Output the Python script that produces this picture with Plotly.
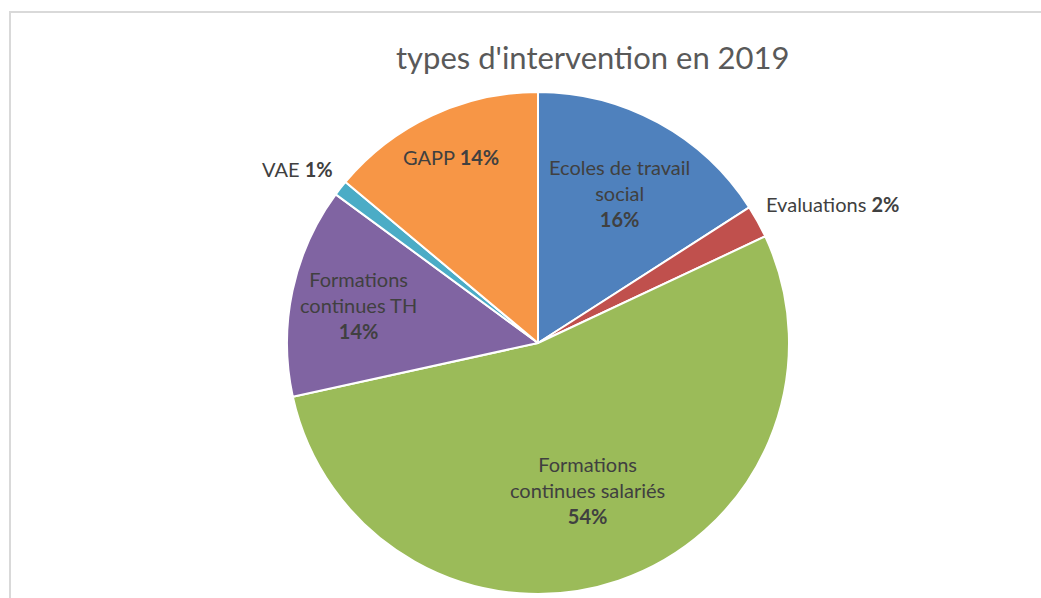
import math
import plotly.graph_objects as go

labels = ["Ecoles de travail social", "Evaluations", "Formations continues salariés",
          "Formations continues TH", "VAE", "GAPP"]
display = ["Ecoles de travail<br>social", "Evaluations", "Formations<br>continues salariés",
           "Formations<br>continues TH", "VAE", "GAPP"]
values = [15.9, 2.1, 53.5, 13.5, 1.0, 13.9]
colors = ["#4F81BD", "#C0504D", "#9BBB59", "#8064A2", "#4BACC6", "#F79646"]

# label styling (radial position as fraction of radius, anchors, layout of text)
label_rf = [0.68, 1.03, 0.62, 0.73, 1.03, 0.82]
label_outside = [False, True, False, False, True, False]
label_multiline = [True, False, True, True, False, False]

W, H = 1041, 598
cx, cy, r = 538, 343, 251
FONT = "Lato, Open Sans, sans-serif"

fig = go.Figure(go.Pie(
    labels=labels,
    values=values,
    textinfo="none",
    sort=False,
    direction="clockwise",
    rotation=0,
    marker=dict(colors=colors, line=dict(color="white", width=2)),
    showlegend=False,
    domain=dict(x=[(cx - r) / W, (cx + r) / W], y=[1 - (cy + r) / H, 1 - (cy - r) / H]),
    hoverinfo="label+percent",
))

annotations = [dict(
    text="types d'intervention en 2019",
    x=593 / W, y=1 - 57 / H, xref="paper", yref="paper",
    showarrow=False, xanchor="center", yanchor="middle",
    font=dict(family=FONT, size=31, color="#595959"),
)]

total = sum(values)
cum = 0.0
for i, v in enumerate(values):
    mid = (cum + v / 2) / total * 2 * math.pi
    cum += v
    pct = f"{round(v / total * 100)}%"
    px = cx + label_rf[i] * r * math.sin(mid)
    py = cy - label_rf[i] * r * math.cos(mid)
    sep = "<br>" if label_multiline[i] else " "
    txt = f"{display[i]}{sep}<b>{pct}</b>"
    if label_outside[i]:
        xa = "left" if math.sin(mid) > 0 else "right"
        ya = "bottom"
    else:
        xa, ya = "center", "middle"
    annotations.append(dict(
        text=txt, x=px / W, y=1 - py / H, xref="paper", yref="paper",
        showarrow=False, xanchor=xa, yanchor=ya, align="center",
        font=dict(family=FONT, size=20, color="#404040"),
    ))

fig.update_layout(
    width=W, height=H,
    margin=dict(l=0, r=0, t=0, b=0),
    paper_bgcolor="white",
    annotations=annotations,
    shapes=[dict(
        type="rect", xref="paper", yref="paper",
        x0=10 / W, x1=1.05, y0=-0.05, y1=1 - 12 / H,
        line=dict(color="#D9D9D9", width=2),
    )],
)

fig.write_html("out.html")
